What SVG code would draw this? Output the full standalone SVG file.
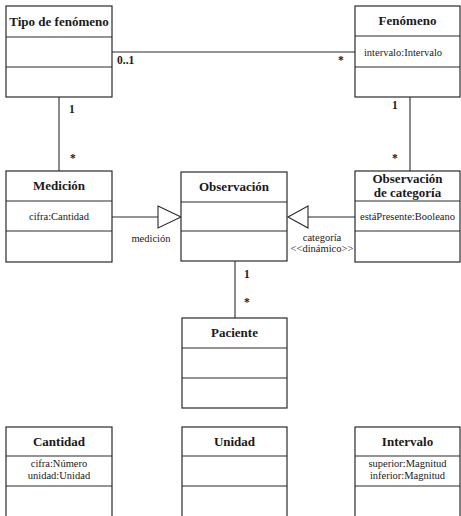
<svg xmlns="http://www.w3.org/2000/svg" width="461" height="516" viewBox="0 0 461 516">
<style>
.box{fill:#fff;stroke:#2a2a2a;stroke-width:1.2}
.div{stroke:#2a2a2a;stroke-width:1.1}
.t{font-family:"Liberation Serif",serif;font-weight:bold;font-size:13px;fill:#1a1a1a;text-anchor:middle}
.a{font-family:"Liberation Serif",serif;font-size:10.5px;fill:#1a1a1a;text-anchor:middle}
.m{font-family:"Liberation Serif",serif;font-weight:bold;font-size:11.5px;fill:#1a1a1a}
.l{font-family:"Liberation Serif",serif;font-size:10.5px;fill:#1a1a1a;text-anchor:middle}
.c{stroke:#2a2a2a;stroke-width:1.1;fill:none}
.tri{fill:#fff;stroke:#2a2a2a;stroke-width:1.1}
</style>
<rect width="461" height="516" fill="#fff"/>
<g id="connectors">
<line class="c" x1="112" y1="52" x2="355" y2="52"/>
<line class="c" x1="59" y1="97" x2="59" y2="171"/>
<line class="c" x1="410" y1="97" x2="410" y2="171"/>
<line class="c" x1="112" y1="217" x2="158" y2="217"/>
<polygon class="tri" points="158,206 181,217 158,228"/>
<line class="c" x1="308" y1="217" x2="355" y2="217"/>
<polygon class="tri" points="308,206 288,217 308,228"/>
<line class="c" x1="235" y1="261" x2="235" y2="318"/>
<text class="m" x="117" y="64">0..1</text>
<text class="m" x="338" y="64">*</text>
<text class="m" x="69" y="113">1</text>
<text class="m" x="70" y="162">*</text>
<text class="m" x="392" y="109">1</text>
<text class="m" x="392" y="162">*</text>
<text class="m" x="244" y="278">1</text>
<text class="m" x="244" y="306">*</text>
<text class="l" x="151" y="242">medición</text>
<text class="l" x="322" y="241">categoría</text>
<text class="l" x="322" y="252">&lt;&lt;dinámico&gt;&gt;</text>
</g>
<g id="tipo-fenomeno">
<rect class="box" x="6" y="6" width="106" height="91"/>
<line class="div" x1="6" y1="37" x2="112" y2="37"/>
<line class="div" x1="6" y1="67" x2="112" y2="67"/>
<text class="t" x="59" y="26">Tipo de fenómeno</text>
</g>
<g id="fenomeno">
<rect class="box" x="355" y="6" width="105" height="91"/>
<line class="div" x1="355" y1="36" x2="460" y2="36"/>
<line class="div" x1="355" y1="67" x2="460" y2="67"/>
<text class="t" x="407.5" y="25">Fenómeno</text>
<text class="a" x="403" y="56">intervalo:Intervalo</text>
</g>
<g id="medicion">
<rect class="box" x="6" y="171" width="106" height="91"/>
<line class="div" x1="6" y1="201" x2="112" y2="201"/>
<line class="div" x1="6" y1="231" x2="112" y2="231"/>
<text class="t" x="59" y="190">Medición</text>
<text class="a" x="59" y="220">cifra:Cantidad</text>
</g>
<g id="observacion">
<rect class="box" x="181" y="172" width="106" height="89"/>
<line class="div" x1="181" y1="202" x2="287" y2="202"/>
<line class="div" x1="181" y1="231" x2="287" y2="231"/>
<text class="t" x="234" y="191">Observación</text>
</g>
<g id="observacion-categoria">
<rect class="box" x="355" y="171" width="105" height="91"/>
<line class="div" x1="355" y1="201" x2="460" y2="201"/>
<line class="div" x1="355" y1="231" x2="460" y2="231"/>
<text class="t" x="407.5" y="183">Observación</text>
<text class="t" x="407.5" y="197">de categoría</text>
<text class="a" x="407.5" y="220">estáPresente:Booleano</text>
</g>
<g id="paciente">
<rect class="box" x="182" y="318" width="105" height="90"/>
<line class="div" x1="182" y1="348" x2="287" y2="348"/>
<line class="div" x1="182" y1="378" x2="287" y2="378"/>
<text class="t" x="234.5" y="337">Paciente</text>
</g>
<g id="cantidad">
<rect class="box" x="6" y="427" width="106" height="95"/>
<line class="div" x1="6" y1="456" x2="112" y2="456"/>
<line class="div" x1="6" y1="486" x2="112" y2="486"/>
<text class="t" x="59" y="446">Cantidad</text>
<text class="a" x="59" y="467">cifra:Número</text>
<text class="a" x="59" y="479">unidad:Unidad</text>
</g>
<g id="unidad">
<rect class="box" x="182" y="427" width="105" height="95"/>
<line class="div" x1="182" y1="456" x2="287" y2="456"/>
<line class="div" x1="182" y1="486" x2="287" y2="486"/>
<text class="t" x="234.5" y="446">Unidad</text>
</g>
<g id="intervalo">
<rect class="box" x="355" y="427" width="105" height="95"/>
<line class="div" x1="355" y1="456" x2="460" y2="456"/>
<line class="div" x1="355" y1="486" x2="460" y2="486"/>
<text class="t" x="407.5" y="446">Intervalo</text>
<text class="a" x="407.5" y="467">superior:Magnitud</text>
<text class="a" x="407.5" y="479">inferior:Magnitud</text>
</g>
</svg>
